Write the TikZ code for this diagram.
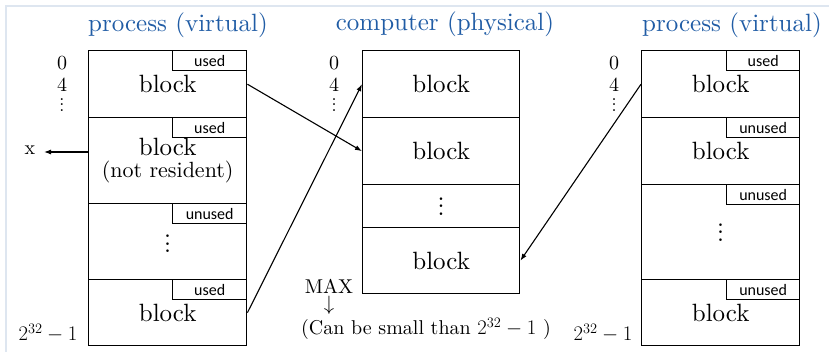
\documentclass[tikz,border=0pt]{standalone}
\usepackage{amsmath}
\usepackage{fontspec}
\setmainfont{lmroman10-regular.otf}
\newfontfamily\tagfont{Carlito}
\usetikzlibrary{arrows.meta}
\definecolor{titleblue}{RGB}{32,92,165}
\definecolor{framecol}{RGB}{222,230,240}
\newcommand{\bigdots}{\vbox{\fontsize{25}{25}\selectfont\baselineskip=7.5pt\lineskiplimit=0pt\lineskip=0pt\hbox{.}\hbox{.}\hbox{.}}}
\newcommand{\smalldots}{\vbox{\fontsize{18}{18}\selectfont\baselineskip=5.5pt\lineskiplimit=0pt\lineskip=0pt\hbox{.}\hbox{.}\hbox{.}}}
\tikzset{
  blk/.style={draw, line width=1.4pt, anchor=north west, inner sep=0pt, align=center, font=\fontsize{25}{27}\selectfont},
  tagbox/.style={draw, line width=1.4pt, anchor=north east, inner sep=0pt, minimum height=20pt, font=\tagfont\fontsize{16}{17}\selectfont},
  ttl/.style={text=titleblue, font=\fontsize{25}{28}\selectfont, inner sep=0pt},
  addr/.style={font=\fontsize{20}{22}\selectfont, inner sep=0pt},
  lbl/.style={font=\fontsize{20}{22}\selectfont, inner sep=0pt},
  conn/.style={line width=1.1pt, -{Latex[length=7pt,width=5pt]}},
}
\begin{document}
\begin{tikzpicture}[x=1pt,y=-1pt]
\useasboundingbox (0,0) rectangle (829,352);
\draw[framecol, line width=1.2pt] (6,352) -- (6,6) -- (829,6);

% titles
\node[ttl] (t1) at (178,25) {process (virtual)};
\node[ttl] (t2) at (445,24) {computer (physical)};
\node[ttl] (t3) at (732,25) {process (virtual)};

% left column
\node[blk, minimum width=158pt, minimum height=67pt] (L1) at (88,50) {block};
\node[blk, minimum width=158pt, minimum height=86pt] (L2) at (88,117) {block\\[-5pt]{\fontsize{22}{23}\selectfont(not resident)}};
\node[blk, minimum width=158pt, minimum height=76pt] (L3) at (88,203) {};
\node[blk, minimum width=158pt, minimum height=66pt] (L4) at (88,279) {block};
\node[tagbox, minimum width=74pt] (LT1) at (L1.north east) {used};
\node[tagbox, minimum width=74pt] (LT2) at (L2.north east) {used};
\node[tagbox, minimum width=74pt] (LT3) at (L3.north east) {unused};
\node[tagbox, minimum width=74pt] (LT4) at (L4.north east) {used};
\node[inner sep=0pt] (L3d) at ([yshift=-2pt]L3.center) {\bigdots};

% middle column
\node[blk, minimum width=157pt, minimum height=67pt] (M1) at (362,50) {block};
\node[blk, minimum width=157pt, minimum height=67pt] (M2) at (362,117) {block};
\node[blk, minimum width=157pt, minimum height=43pt] (M3) at (362,184) {};
\node[blk, minimum width=157pt, minimum height=66pt] (M4) at (362,227) {block};
\node[inner sep=0pt] (M3d) at ([yshift=0pt]M3.center) {\bigdots};

% right column
\node[blk, minimum width=158pt, minimum height=67pt] (R1) at (641,50) {block};
\node[blk, minimum width=158pt, minimum height=67pt] (R2) at (641,117) {block};
\node[blk, minimum width=158pt, minimum height=95pt] (R3) at (641,184) {};
\node[blk, minimum width=158pt, minimum height=66pt] (R4) at (641,279) {block};
\node[tagbox, minimum width=73pt] (RT1) at (R1.north east) {used};
\node[tagbox, minimum width=73pt] (RT2) at (R2.north east) {unused};
\node[tagbox, minimum width=73pt] (RT3) at (R3.north east) {unused};
\node[tagbox, minimum width=73pt] (RT4) at (R4.north east) {unused};
\node[inner sep=0pt] (R3d) at ([yshift=0pt]R3.center) {\bigdots};

% address labels
\node[addr] (a10) at (62,63) {0};
\node[addr] (a14) at (62,85) {4};
\node[inner sep=0pt] (a1d) at (62,105) {\smalldots};
\node[addr] (a20) at (334,63) {0};
\node[addr] (a24) at (334,85) {4};
\node[inner sep=0pt] (a2d) at (334,105) {\smalldots};
\node[addr] (a30) at (614,63) {0};
\node[addr] (a34) at (614,85) {4};
\node[inner sep=0pt] (a3d) at (614,105) {\smalldots};

\node[lbl, font=\fontsize{21}{22}\selectfont] (e1) at (48,333) {$2^{32}-1$};
\node[lbl, font=\fontsize{21}{22}\selectfont] (e3) at (603,333) {$2^{32}-1$};

\node[lbl] (max) at (329,286) {MAX};
\node[lbl] (down) at (329,305) {$\downarrow$};
\node[lbl] (note) at (426,329) {(Can be small than $2^{32}-1$ )};

% x label
\node[lbl] (xl) at (30,150) {x};
\coordinate (xs) at (88,152);
\coordinate (xe) at (44,152);
\draw[conn] (xs) -- (xe);

% connectors
\draw[conn] (L1.east) -- (M2.west);
\draw[conn] (L4.east) -- (M1.west);
\draw[conn] (R1.west) -- (M4.east);
\end{tikzpicture}
\end{document}
